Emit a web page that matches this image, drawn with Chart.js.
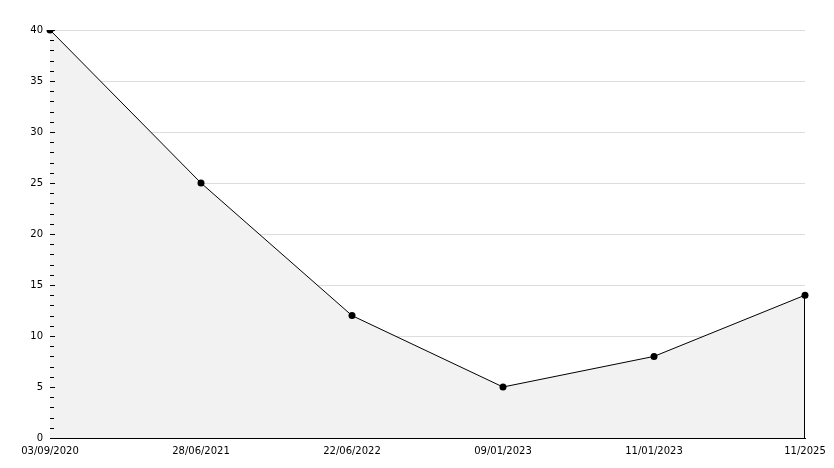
<!DOCTYPE html>
<html>
<head>
<meta charset="utf-8">
<script src="https://cdn.jsdelivr.net/npm/chart.js@4/dist/chart.umd.min.js"></script>
<style>
  html, body { margin: 0; padding: 0; background: #fff; }
  #wrap { width: 834px; height: 468px; }
</style>
</head>
<body>
<div id="wrap"><canvas id="chart"></canvas></div>
<script>
'use strict';

// data
let dateLabels = ['03/09/2020', '28/06/2021', '22/06/2022', '09/01/2023', '11/01/2023', '11/2025'];
let countValues = [40, 25, 12, 5, 8, 14];
let yTicks = [0, 5, 10, 15, 20, 25, 30, 35, 40];

// small ticks drawn inside the plot on the y axis, plus the right edge of the fill
let innerTicks = {
  id: 'innerTicks',
  afterDatasetsDraw(chart) {
    let ctx = chart.ctx;
    let y = chart.scales.y;
    let area = chart.chartArea;
    ctx.save();
    ctx.strokeStyle = '#000';
    ctx.lineWidth = 1;
    ctx.beginPath();
    for (let v = yTicks[0]; v <= yTicks[yTicks.length - 1]; v++) {
      let py = Math.round(y.getPixelForValue(v)) + 0.5;
      let len = (v % 5 === 0) ? 5 : 4;
      ctx.moveTo(area.left, py);
      ctx.lineTo(area.left + len, py);
    }
    // right side of the shaded area
    let meta = chart.getDatasetMeta(0);
    let last = meta.data[meta.data.length - 1];
    let px = Math.round(last.x) - 0.5;
    ctx.moveTo(px, last.y);
    ctx.lineTo(px, area.bottom);
    ctx.stroke();
    ctx.restore();
  }
};

let ctx = document.getElementById('chart').getContext('2d');
new Chart(ctx, {
  type: 'line',
  data: {
    labels: dateLabels,
    datasets: [{
      data: countValues,
      borderColor: '#000',
      borderWidth: 1,
      backgroundColor: '#f2f2f2',
      fill: 'origin',
      tension: 0,
      pointRadius: 3.5,
      pointBackgroundColor: '#000',
      pointBorderColor: '#000',
      pointBorderWidth: 0
    }]
  },
  options: {
    responsive: true,
    maintainAspectRatio: false,
    animation: false,
    layout: { padding: { top: 30, right: 29, left: 0, bottom: 0 } },
    plugins: {
      legend: { display: false },
      tooltip: { enabled: false }
    },
    scales: {
      x: {
        offset: false,
        grid: { display: false, drawTicks: false },
        border: { display: true, color: '#000', width: 1 },
        ticks: {
          color: '#000',
          font: { family: 'DejaVu Sans', size: 10 },
          maxRotation: 0,
          autoSkip: false,
          padding: 7
        },
        afterFit(scale) { scale.height = 30; }
      },
      y: {
        min: 0,
        max: 40,
        grid: { color: '#dddddd', drawTicks: false },
        border: { display: true, color: '#000', width: 1 },
        ticks: {
          stepSize: 5,
          color: '#000',
          font: { family: 'DejaVu Sans', size: 10 },
          padding: 7
        },
        afterFit(scale) { scale.width = 50; }
      }
    }
  },
  plugins: [innerTicks]
});
</script>
</body>
</html>
